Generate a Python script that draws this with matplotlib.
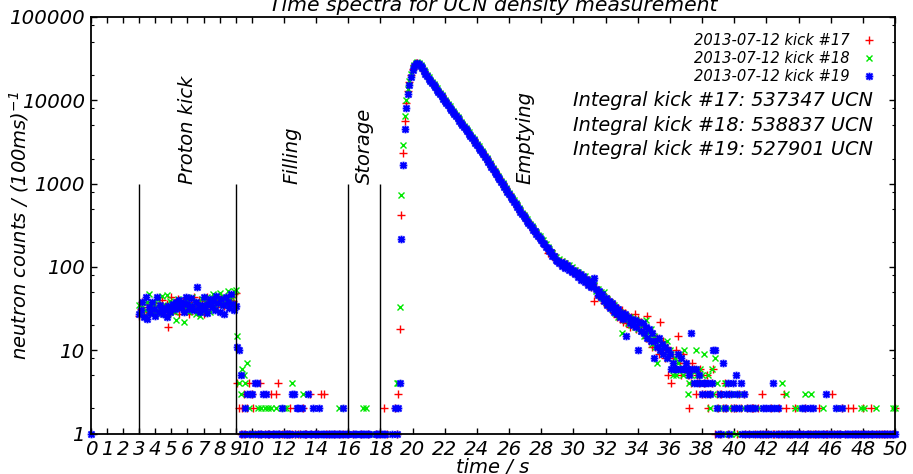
import numpy as np
import matplotlib
matplotlib.use("Agg")
import matplotlib.pyplot as plt
from matplotlib.path import Path
from matplotlib.ticker import FixedLocator, FixedFormatter, LogLocator, NullFormatter

plt.rcParams["font.family"] = ["DejaVu Sans"]
plt.rcParams["font.style"] = "italic"
plt.rcParams["mathtext.fontset"] = "dejavusans"
plt.rcParams["mathtext.default"] = "it"

# ---------------- data: neutron counts per 100 ms bin, bins at 0.0 .. 50.0 s ----------------
t_step = 0.1
n_bins = 501

# 0.0 - 2.9 s
k17_pre = [0, 0, 0, 0, 0, 0, 0, 0, 0, 0, 0, 0, 0, 0, 0, 0, 0, 0, 0, 0, 0, 0, 0, 0, 0, 0, 0, 0, 0, 0]
k18_pre = [0, 0, 0, 0, 0, 0, 0, 0, 0, 0, 0, 0, 0, 0, 0, 0, 0, 0, 0, 0, 0, 0, 0, 0, 0, 0, 0, 0, 0, 0]
k19_pre = [1, 0, 0, 0, 0, 0, 0, 0, 0, 0, 0, 0, 0, 0, 0, 0, 0, 0, 0, 0, 0, 0, 0, 0, 0, 0, 0, 0, 0, 0]

# 3.0 - 9.0 s (proton kick)
k17_kick = [26, 31, 38, 27, 25, 33, 29, 36, 30, 28,
            34, 27, 37, 31, 40, 29, 33, 36, 19, 28,
            44, 35, 30, 38, 41, 27, 33, 39, 36, 42,
            31, 27, 38, 35, 43, 33, 29, 40, 37, 34,
            27, 39, 44, 36, 31, 38, 42, 35, 33, 40,
            37, 45, 41, 34, 38, 43, 36, 40, 39, 47, 48]
k18_kick = [35, 28, 33, 26, 30, 38, 47, 31, 27, 36,
            29, 41, 33, 27, 45, 35, 31, 46, 28, 39,
            37, 32, 29, 23, 41, 36, 34, 38, 22, 33,
            40, 29, 36, 43, 31, 27, 38, 34, 26, 41,
            35, 30, 44, 37, 29, 39, 47, 33, 42, 36,
            49, 38, 44, 35, 40, 51, 37, 43, 46, 52, 53]
k19_kick = [27, 30, 38, 25, 44, 24, 33, 28, 38, 31,
            26, 43, 29, 35, 32, 27, 30, 25, 34, 29,
            33, 36, 31, 38, 35, 40, 32, 37, 29, 44,
            36, 31, 42, 34, 30, 38, 57, 33, 29, 35,
            43, 31, 28, 36, 41, 33, 39, 30, 45, 37,
            29, 41, 35, 27, 44, 38, 32, 47, 36, 30, 34]

# 9.1 - 19.0 s (filling / storage)
k17_fill = [4, 2, 1, 2, 3, 1, 2, 4, 1, 3,
            2, 1, 0, 1, 4, 1, 0, 1, 0, 1,
            1, 3, 1, 0, 3, 4, 1, 0, 1, 1,
            0, 1, 1, 2, 1, 0, 1, 0, 1, 1,
            0, 2, 1, 1, 0, 3, 1, 0, 1, 0,
            1, 0, 3, 0, 3, 1, 0, 1, 0, 0,
            1, 0, 0, 1, 0, 0, 1, 0, 0, 1,
            0, 0, 1, 0, 0, 0, 0, 1, 0, 0,
            0, 1, 0, 0, 0, 0, 1, 0, 0, 1,
            0, 2, 0, 1, 0, 0, 0, 0, 2, 1]
k18_fill = [15, 4, 3, 6, 5, 4, 7, 2, 1, 1,
            1, 0, 1, 2, 1, 2, 0, 2, 1, 2,
            1, 2, 0, 1, 2, 0, 1, 1, 0, 2,
            2, 0, 1, 1, 4, 1, 0, 0, 1, 0,
            1, 3, 0, 1, 0, 1, 0, 0, 1, 0,
            0, 1, 0, 0, 1, 0, 0, 0, 1, 0,
            0, 0, 0, 2, 0, 1, 0, 0, 0, 0,
            0, 1, 0, 0, 0, 0, 1, 0, 2, 0,
            2, 0, 0, 1, 0, 0, 0, 0, 0, 0,
            0, 0, 1, 0, 0, 0, 0, 0, 0, 4]
k19_fill = [11, 10, 5, 1, 1, 2, 3, 1, 3, 3,
            1, 4, 4, 1, 1, 1, 3, 1, 3, 1,
            1, 0, 1, 1, 1, 1, 1, 0, 2, 1,
            1, 1, 1, 1, 3, 3, 1, 2, 2, 1,
            2, 1, 1, 1, 3, 1, 1, 2, 1, 1,
            1, 2, 1, 1, 1, 0, 1, 1, 1, 1,
            1, 1, 1, 1, 1, 1, 2, 1, 1, 1,
            0, 0, 1, 1, 1, 0, 1, 1, 1, 1,
            1, 1, 1, 0, 0, 0, 1, 1, 1, 0,
            1, 1, 1, 0, 0, 0, 1, 0, 2, 1]

# 19.1 - 38.0 s (emptying)
k17_empty = [3, 18, 425, 2360, 5710, 9230, 12800, 16500, 20100, 23500,
             26300, 27900, 28300, 27400, 26100, 24700, 22700, 21500, 19800, 18700,
             17400, 16650, 15420, 14800, 13700, 13050, 12020, 11450, 10590, 10080,
             9350, 8940, 8270, 7930, 7330, 7040, 6510, 6250, 5780, 5560,
             5120, 4930, 4540, 4370, 4010, 3860, 3540, 3390, 3110, 2980,
             2730, 2620, 2400, 2310, 2110, 2020, 1830, 1760, 1595, 1530,
             1390, 1335, 1205, 1162, 1052, 1013, 918, 884, 798, 771,
             698, 672, 603, 587, 526, 514, 461, 452, 404, 398,
             358, 352, 316, 313, 280, 278, 248, 247, 219, 220,
             196, 197, 172, 146, 152, 158, 136, 141, 121, 126,
             112, 119, 106, 113, 99, 107, 94, 101, 88, 95,
             84, 90, 78, 83, 71, 78, 66, 73, 62, 69,
             58, 64, 39, 57, 45, 53, 42, 48, 37, 44,
             35, 41, 31, 37, 28, 35, 25, 32, 24, 30,
             22, 28, 21, 26, 19, 25, 20, 27, 18, 24,
             18, 22, 16, 19, 14, 26, 13, 17, 11, 15,
             11, 14, 9, 22, 10, 13, 8, 11, 5, 9,
             4, 8, 6, 10, 15, 7, 5, 9, 6, 7,
             5, 2, 4, 7, 6, 3, 5, 4, 6, 3]
k18_empty = [4, 33, 720, 2920, 6560, 10100, 13600, 17200, 20800, 24200,
             26900, 28400, 28600, 27800, 26500, 24800, 23100, 21600, 20100, 18800,
             17700, 16600, 15700, 14750, 13950, 13050, 12250, 11480, 10760, 10110,
             9500, 8930, 8440, 7930, 7470, 7050, 6620, 6260, 5890, 5560,
             5230, 4920, 4640, 4360, 4110, 3850, 3620, 3390, 3180, 2980,
             2790, 2630, 2450, 2310, 2160, 2010, 1885, 1750, 1640, 1520,
             1425, 1325, 1245, 1155, 1085, 1005, 945, 878, 826, 765,
             718, 665, 628, 580, 546, 507, 480, 446, 422, 392,
             372, 347, 331, 308, 294, 273, 262, 243, 232, 216,
             208, 191, 186, 171, 166, 152, 148, 136, 132, 121,
             123, 114, 117, 106, 111, 100, 104, 94, 99, 89,
             93, 84, 88, 77, 82, 72, 77, 67, 72, 63,
             66, 58, 60, 51, 55, 46, 50, 42, 50, 38,
             41, 35, 38, 31, 35, 28, 31, 25, 29, 16,
             27, 23, 26, 21, 25, 20, 24, 19, 23, 18,
             21, 17, 20, 15, 23, 16, 14, 18, 12, 15,
             11, 7, 13, 10, 12, 9, 11, 13, 8, 10,
             9, 5, 8, 5, 7, 6, 8, 5, 10, 6,
             3, 4, 5, 6, 4, 10, 5, 4, 6, 5]
k19_empty = [2, 4, 218, 1680, 4570, 8100, 11900, 15400, 19300, 22900,
             25800, 27600, 28100, 27200, 25700, 24100, 22400, 20900, 19400, 18200,
             17100, 16200, 15150, 14400, 13450, 12700, 11850, 11150, 10420, 9810,
             9200, 8700, 8150, 7720, 7230, 6850, 6410, 6080, 5690, 5400,
             5050, 4790, 4480, 4250, 3960, 3750, 3490, 3300, 3070, 2900,
             2700, 2550, 2370, 2240, 2090, 1960, 1815, 1710, 1575, 1485,
             1375, 1295, 1195, 1130, 1040, 985, 905, 860, 790, 748,
             690, 652, 598, 568, 522, 496, 458, 437, 403, 384,
             355, 341, 315, 303, 279, 268, 247, 238, 220, 211,
             194, 189, 173, 168, 154, 150, 137, 134, 122, 119,
             110, 116, 103, 110, 97, 104, 92, 98, 87, 93,
             82, 88, 76, 82, 70, 77, 65, 72, 61, 68,
             57, 63, 74, 55, 46, 52, 43, 47, 39, 42,
             35, 39, 32, 37, 29, 33, 27, 31, 25, 28,
             24, 27, 15, 25, 21, 24, 20, 23, 19, 10,
             22, 17, 21, 16, 19, 14, 18, 13, 16, 8,
             13, 11, 14, 10, 12, 9, 11, 8, 10, 9,
             6, 7, 6, 6, 9, 6, 8, 6, 6, 7,
             6, 5, 16, 6, 4, 6, 4, 5, 4, 3]

# 38.1 - 50.0 s (late tail / background)
k17_tail = [4, 3, 5, 2, 3, 4, 6, 1, 3, 2,
            1, 3, 2, 4, 2, 1, 3, 2, 0, 2,
            2, 1, 3, 2, 0, 3, 1, 2, 1, 0,
            2, 2, 1, 0, 2, 1, 3, 1, 0, 1,
            1, 0, 2, 1, 1, 0, 1, 2, 0, 1,
            3, 2, 1, 0, 1, 1, 0, 2, 1, 0,
            1, 0, 1, 2, 0, 1, 1, 0, 1, 1,
            0, 1, 2, 0, 1, 0, 1, 1, 0, 1,
            3, 1, 0, 1, 0, 1, 2, 0, 1, 0,
            2, 0, 1, 2, 1, 0, 1, 0, 1, 2,
            1, 0, 1, 0, 2, 1, 0, 1, 0, 1,
            0, 1, 1, 0, 1, 0, 1, 0, 1, 2]
k18_tail = [9, 4, 3, 5, 2, 6, 3, 8, 4, 2,
            3, 2, 1, 4, 4, 2, 3, 1, 2, 3,
            1, 2, 0, 3, 1, 2, 1, 0, 2, 1,
            2, 1, 0, 1, 2, 1, 0, 1, 1, 0,
            1, 0, 1, 2, 2, 1, 0, 1, 0, 4,
            1, 3, 0, 1, 1, 0, 1, 2, 0, 2,
            1, 0, 1, 3, 1, 0, 1, 3, 0, 1,
            0, 1, 1, 0, 2, 1, 0, 1, 1, 0,
            1, 0, 1, 0, 1, 2, 0, 1, 0, 1,
            0, 1, 0, 1, 0, 1, 1, 0, 2, 1,
            2, 0, 1, 1, 0, 1, 0, 2, 1, 0,
            1, 0, 1, 0, 1, 1, 0, 1, 2, 2]
k19_tail = [4, 4, 3, 4, 3, 4, 10, 10, 2, 1,
            3, 1, 7, 2, 3, 4, 1, 3, 4, 2,
            5, 3, 2, 4, 1, 3, 1, 2, 1, 2,
            2, 1, 2, 1, 0, 1, 1, 2, 1, 2,
            1, 2, 1, 4, 2, 1, 2, 1, 1, 0,
            1, 1, 0, 1, 1, 1, 1, 0, 1, 1,
            1, 2, 1, 2, 1, 1, 2, 1, 2, 1,
            1, 0, 1, 1, 1, 1, 3, 1, 1, 0,
            1, 1, 2, 1, 1, 1, 2, 0, 1, 1,
            1, 1, 0, 1, 1, 1, 1, 1, 0, 1,
            1, 1, 1, 0, 1, 1, 1, 0, 1, 1,
            1, 0, 1, 1, 1, 1, 0, 1, 1, 1]

labels = ["2013-07-12 kick #17", "2013-07-12 kick #18", "2013-07-12 kick #19"]
integrals = [537347, 538837, 527901]
kick_ids = [17, 18, 19]

phase_lines = [3, 9, 16, 18]
phase_names = ["Proton kick", "Filling", "Storage", "Emptying"]
phase_label_x = [6, 12.5, 17, 27]

xtick_vals = [0, 1, 2, 3, 4, 5, 6, 7, 8, 9, 10, 12, 14, 16, 18, 20, 22, 24, 26, 28, 30,
              32, 34, 36, 38, 40, 42, 44, 46, 48, 50]
ytick_vals = [1, 10, 100, 1000, 10000, 100000]
ytick_labels = ["1", "10", "100", "1000", "10000", "100000"]

# ---------------- plotting ----------------
times = np.round(np.arange(n_bins) * t_step, 1)
series = [
    k17_pre + k17_kick + k17_fill + k17_empty + k17_tail,
    k18_pre + k18_kick + k18_fill + k18_empty + k18_tail,
    k19_pre + k19_kick + k19_fill + k19_empty + k19_tail,
]

# asterisk marker (plus and cross combined)
_v = [(-1, 0), (1, 0), (0, -1), (0, 1), (-0.8, -0.8), (0.8, 0.8), (-0.8, 0.8), (0.8, -0.8)]
_c = [Path.MOVETO, Path.LINETO] * 4
asterisk = Path(_v, _c)

styles = [
    dict(marker="+", color="#ff0000", ms=5.5, mew=1.0),
    dict(marker="x", color="#00e800", ms=4.8, mew=1.0),
    dict(marker=asterisk, color="#0000ff", ms=5.5, mew=1.4),
]

fig = plt.figure(figsize=(9.13, 4.74), dpi=100)
ax = fig.add_axes([91 / 913, 1 - 433.5 / 474, (895 - 91) / 913, (433.5 - 17) / 474])

for counts, st, lab in zip(series, styles, labels):
    c = np.array(counts, dtype=float)
    m = c > 0
    ax.plot(times[m], c[m], linestyle="none", label=lab, clip_on=False, **st)

ax.set_yscale("log")
ax.set_xlim(0, 50)
ax.set_ylim(1, 100000)

ax.vlines(phase_lines, 1, 1000, colors="black", linewidth=1.0)
for xn, name in zip(phase_label_x, phase_names):
    ax.text(xn, 1000, name, rotation=90, ha="center", va="bottom", fontsize=14)

ax.xaxis.set_major_locator(FixedLocator(xtick_vals))
ax.xaxis.set_major_formatter(FixedFormatter([str(v) for v in xtick_vals]))
ax.yaxis.set_major_locator(FixedLocator(ytick_vals))
ax.yaxis.set_major_formatter(FixedFormatter(ytick_labels))
ax.yaxis.set_minor_locator(LogLocator(base=10, subs=(2.0, 5.0, 8.0)))
ax.yaxis.set_minor_formatter(NullFormatter())
ax.tick_params(which="both", direction="in", top=True, right=True, labelsize=14.2)
ax.tick_params(which="major", length=4, width=1, pad=4.5)
ax.tick_params(which="minor", length=2.5, width=0.8)
for sp in ax.spines.values():
    sp.set_linewidth(1.3)

ax.set_title("Time spectra for UCN density measurement", fontsize=14.7, pad=4)
ax.set_xlabel("time / s", fontsize=14)
ax.set_ylabel("neutron counts / (100ms)$^{-1}$", fontsize=14)
ax.xaxis.set_label_coords(0.5, -0.06)
ax.yaxis.set_label_coords(-0.075, 0.5)

leg = ax.legend(loc="upper right", bbox_to_anchor=(0.984, 0.976), borderaxespad=0,
                frameon=False, markerfirst=False, numpoints=1, handlelength=1.0,
                handletextpad=0.8, labelspacing=0.22, fontsize=10.6)

int_y = [0.7986, 0.7386, 0.681]
for kid, val, yy in zip(kick_ids, integrals, int_y):
    ax.text(0.9726, yy, f"Integral kick #{kid}: {val} UCN", transform=ax.transAxes,
            ha="right", va="center", fontsize=13.9)

fig.savefig("out.png", dpi=100)
